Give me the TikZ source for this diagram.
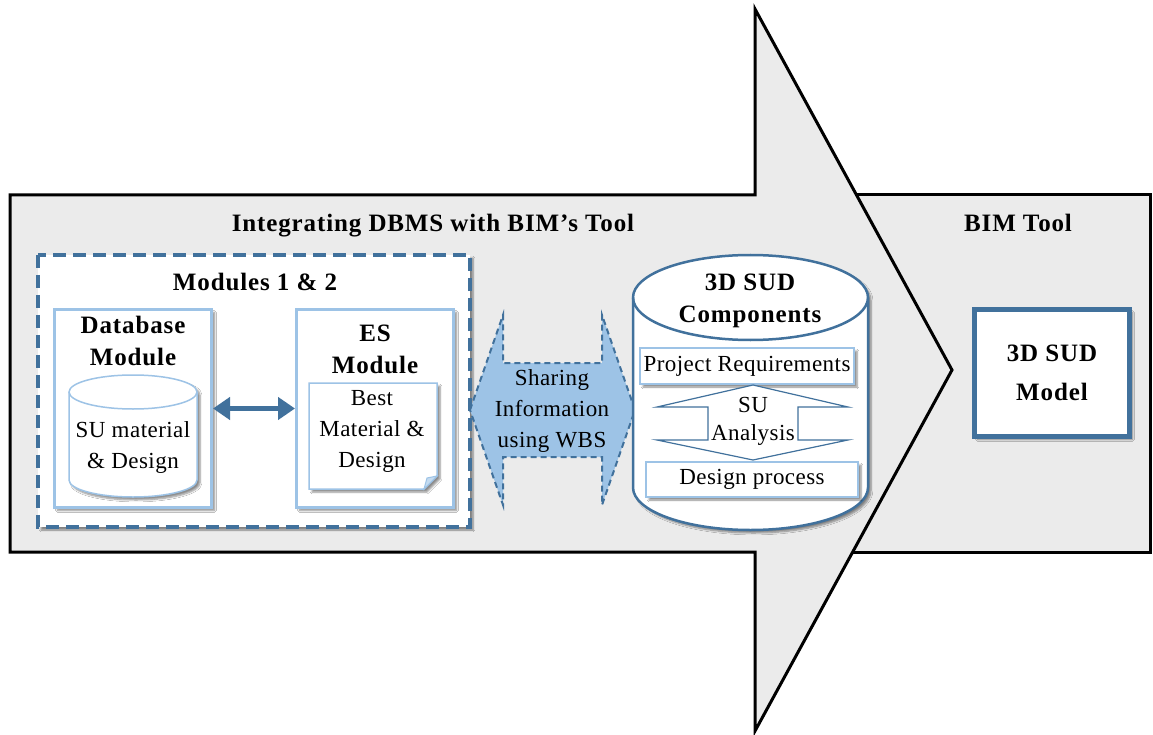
\documentclass[tikz,border=0pt]{standalone}
\usepackage{fontspec}
\setmainfont{Liberation Serif}
\usetikzlibrary{shadows.blur, arrows.meta}

\definecolor{steel}{RGB}{65,113,156}
\definecolor{pale}{RGB}{157,195,230}
\definecolor{panel}{RGB}{235,235,235}

\newfontfamily\headfont[LetterSpace=3.5]{Liberation Serif}
\newfontfamily\bodyfont[LetterSpace=2]{Liberation Serif}

\tikzset{
  panelline/.style={draw=black, line width=3pt, fill=panel, line join=miter},
  head/.style={font=\headfont\fontsize{25}{32}\selectfont\bfseries, align=center, anchor=base},
  txt/.style={font=\bodyfont\fontsize{23}{31}\selectfont, align=center, anchor=base},
  softshadow/.style={blur shadow={shadow xshift=3pt, shadow yshift=-3pt,
      shadow blur steps=6, shadow opacity=45}},
  modbox/.style={draw=pale, line width=3pt, fill=white, softshadow,
      inner sep=0pt, minimum width=157pt, minimum height=198pt},
  bandbox/.style={draw=pale, line width=1.5pt, fill=white, softshadow,
      inner sep=2pt, font=\bodyfont\fontsize{23}{31}\selectfont},
  modelbox/.style={draw=steel, line width=5pt, fill=white, softshadow,
      minimum width=155pt, minimum height=127pt, align=center,
      font=\headfont\fontsize{25}{39}\selectfont\bfseries},
}

\begin{document}
\begin{tikzpicture}[x=1pt, y=-1pt]
\useasboundingbox (0,0) rectangle (1153,735);

% BIM tool panel behind the big arrow
\draw[panelline] (800,195) rectangle (1150,552);
% big process arrow
\draw[panelline] (10,195) -- (755,195) -- (755,9) -- (952,370)
  -- (755,731) -- (755,552) -- (10,552) -- cycle;

\node[head] (tIntegr) at (433,232) {Integrating DBMS with BIM’s Tool};
\node[head] (tBim) at (1018,232) {BIM Tool};

% dashed frame of modules 1 and 2
\draw[steel, line width=4pt, dash pattern=on 13pt off 7pt, fill=white, softshadow]
  (38,255) rectangle (470,527);
\node[head] (tMods) at (255,290) {Modules 1 \& 2};

% database module
\node[modbox] (db) at (133,408.5) {};
\node[head] (tDb) at (133,365) {Database\\Module};
\path[fill=white, draw=pale, line width=1.5pt, softshadow]
  (69,392) -- (69,480) arc[start angle=180, end angle=360, x radius=64pt, y radius=17pt]
  -- (197,392) arc[start angle=0, end angle=180, x radius=64pt, y radius=17pt] -- cycle;
\draw[pale, line width=1.5pt]
  (69,392) arc[start angle=180, end angle=360, x radius=64pt, y radius=17pt];
\node[txt] (tSu) at (133,468) {SU material\\\& Design};

% expert system module
\node[modbox] (es) at (375,408.5) {};
\node[head] (tEs) at (375,373) {ES\\Module};
\path[fill=white, draw=pale, line width=1.5pt, softshadow]
  (309,383) -- (437,383) -- (437,476) -- (424,489) -- (309,489) -- cycle;
\path[fill=pale!60, draw=pale, line width=1pt]
  (437,476) -- (427,478) -- (424,489) -- cycle;
\node[txt] (tBest) at (372,467) {Best\\Material \&\\Design};

\draw[steel, line width=5pt,
  {Triangle[length=17pt,width=22pt]}-{Triangle[length=17pt,width=22pt]}]
  (db.east) -- (es.west);

% sharing double arrow
\path[fill=pale, draw=steel, line width=2pt, dash pattern=on 6pt off 4pt]
  (470,410) -- (503,315) -- (503,363) -- (602,363) -- (602,315) -- (635,410)
  -- (602,505) -- (602,457) -- (503,457) -- (503,505) -- cycle;
\node[txt] (tShare) at (552,447) {Sharing\\Information\\using WBS};

% 3D SUD components store
\path[fill=white, draw=steel, line width=2.5pt, softshadow]
  (633,297.5) -- (633,487.5)
  arc[start angle=180, end angle=360, x radius=117.5pt, y radius=42.5pt]
  -- (868,297.5)
  arc[start angle=0, end angle=180, x radius=117.5pt, y radius=42.5pt] -- cycle;
\draw[steel, line width=2.5pt]
  (633,297.5) arc[start angle=180, end angle=360, x radius=117.5pt, y radius=42.5pt];
\node[head] (tComp) at (750,322) {3D SUD\\Components};

\node[bandbox, minimum width=214pt, minimum height=36pt] (req) at (747,366)
  {Project Requirements};

\path[fill=white, draw=steel, line width=1.2pt]
  (753,385) -- (848,407) -- (798,407) -- (798,440) -- (848,440) -- (753,460)
  -- (657,440) -- (708,440) -- (708,407) -- (657,407) -- cycle;
\node[txt, font=\bodyfont\fontsize{23}{28}\selectfont] (tSuAn) at (753,440) {SU\\Analysis};

\node[bandbox, minimum width=212pt, minimum height=35pt] (des) at (752,479.5)
  {Design process};

% final model
\node[modelbox] (model) at (1052,373) {3D SUD\\Model};
\end{tikzpicture}
\end{document}
